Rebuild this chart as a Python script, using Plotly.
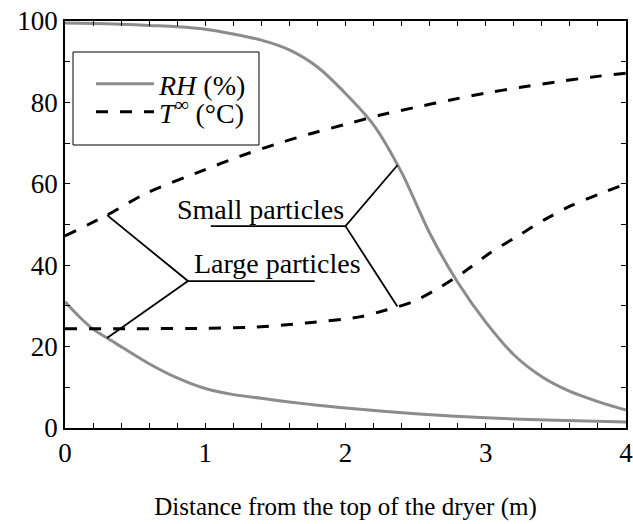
import numpy as np
import plotly.graph_objects as go

# ---- data ----
x_rh_small = [0, 0.2, 0.4, 0.6, 0.8, 1.0, 1.2, 1.4, 1.6, 1.8, 2.0, 2.2, 2.4, 2.6, 2.8, 3.0, 3.2, 3.4, 3.6, 3.8, 4.0]
rh_small = [99.5, 99.4, 99.2, 98.9, 98.6, 98.0, 96.8, 95.3, 92.9, 88.7, 82.2, 74.5, 62.8, 47.9, 35.8, 26.0, 18.0, 12.6, 9.0, 6.5, 4.4]

x_rh_large = [0, 0.1, 0.2, 0.3, 0.4, 0.6, 0.8, 1.0, 1.2, 1.4, 1.6, 1.8, 2.0, 2.5, 3.0, 3.5, 4.0]
rh_large = [31.0, 27.4, 24.3, 22.1, 20.0, 15.8, 12.3, 9.7, 8.2, 7.3, 6.4, 5.6, 4.9, 3.5, 2.5, 1.9, 1.5]

x_t_small = [0, 0.3, 0.58, 1.0, 1.25, 1.5, 1.75, 2.0, 2.25, 2.5, 2.75, 3.0, 3.25, 3.5, 3.75, 4.0]
t_small = [47.2, 52.3, 57.7, 63.5, 66.8, 69.7, 72.3, 74.6, 76.9, 78.8, 80.6, 82.3, 83.7, 85.0, 86.2, 87.2]

x_t_large = [0, 0.5, 1.0, 1.35, 1.72, 2.1, 2.29, 2.48, 2.67, 2.84, 3.03, 3.22, 3.42, 3.62, 3.82, 4.0]
t_large = [24.4, 24.4, 24.5, 24.8, 25.8, 27.3, 29.0, 31.0, 34.5, 38.2, 43.0, 47.0, 51.2, 54.8, 57.6, 60.0]

x_ticks = [0, 1, 2, 3, 4]
y_ticks = [0, 20, 40, 60, 80, 100]

x_title = "Distance from the top of the dryer (m)"
legend_rh = "<i>RH</i> (%)"
legend_t = "<i>T</i><sup>∞</sup> (°C)"
label_small = "Small particles"
label_large = "Large particles"

# leader-line geometry (label anchor points and target x on the curves)
small_branch = (2.0, 49.6)
small_underline_start = 1.04
small_target_x = 2.37
large_branch = (0.877, 36.1)
large_underline_end = 1.78
large_target_x = 0.30

FONT = "Liberation Serif, Times New Roman, serif"
GREY = "#8c8c8c"
DASH = "12px,12px"
SMOOTH = 0.8

fig = go.Figure()
fig.add_trace(go.Scatter(x=x_rh_small, y=rh_small, mode="lines",
                         line=dict(color=GREY, width=3, shape="spline", smoothing=SMOOTH),
                         name=legend_rh, legend="legend"))
fig.add_trace(go.Scatter(x=x_rh_large, y=rh_large, mode="lines",
                         line=dict(color=GREY, width=3, shape="spline", smoothing=SMOOTH),
                         showlegend=False))
fig.add_trace(go.Scatter(x=x_t_small, y=t_small, mode="lines",
                         line=dict(color="black", width=3, dash=DASH, shape="spline", smoothing=SMOOTH),
                         name=legend_t, legend="legend2"))
fig.add_trace(go.Scatter(x=x_t_large, y=t_large, mode="lines",
                         line=dict(color="black", width=3, dash=DASH, shape="spline", smoothing=SMOOTH),
                         showlegend=False))

# leader lines: endpoints found on the curves by interpolation
s_up = (small_target_x, float(np.interp(small_target_x, x_rh_small, rh_small)))
s_dn = (small_target_x, float(np.interp(small_target_x, x_t_large, t_large)))
l_up = (large_target_x, float(np.interp(large_target_x, x_t_small, t_small)))
l_dn = (large_target_x, float(np.interp(large_target_x, x_rh_large, rh_large)))

lead_small_x = [small_underline_start, small_branch[0], s_up[0], None, small_branch[0], s_dn[0]]
lead_small_y = [small_branch[1], small_branch[1], s_up[1], None, small_branch[1], s_dn[1]]
lead_large_x = [large_underline_end, large_branch[0], l_up[0], None, large_branch[0], l_dn[0]]
lead_large_y = [large_branch[1], large_branch[1], l_up[1], None, large_branch[1], l_dn[1]]
for lx, ly in [(lead_small_x, lead_small_y), (lead_large_x, lead_large_y)]:
    fig.add_trace(go.Scatter(x=lx, y=ly, mode="lines", line=dict(color="black", width=1.8),
                             showlegend=False, hoverinfo="skip"))

fig.add_annotation(x=1.394, y=53.8, text=label_small, showarrow=False, xanchor="center", yanchor="middle",
                   font=dict(family=FONT, size=28, color="black"))
fig.add_annotation(x=1.515, y=40.3, text=label_large, showarrow=False, xanchor="center", yanchor="middle",
                   font=dict(family=FONT, size=28, color="black"))

# legend frame
fig.add_shape(type="rect", xref="paper", yref="paper", x0=0.0143, x1=0.3458, y0=0.6953, y1=0.9238,
              line=dict(color="black", width=1), fillcolor="rgba(0,0,0,0)", layer="above")

axis_common = dict(showline=True, linecolor="black", linewidth=1.5, mirror="allticks",
                   ticks="inside", ticklen=5, tickwidth=1, tickcolor="black",
                   showgrid=False, zeroline=False, automargin=False, ticklabeloverflow="allow",
                   tickfont=dict(family=FONT, size=27, color="black"))

fig.update_xaxes(range=[0, 4], tickvals=x_ticks, ticktext=[str(v) for v in x_ticks],
                 minor=dict(ticks="inside", dtick=0.2, tick0=0, ticklen=5, tickcolor="black", showgrid=False),
                 title=dict(text=x_title, font=dict(family=FONT, size=25, color="black"), standoff=30),
                 **axis_common)
fig.update_yaxes(range=[0, 100], tickvals=y_ticks, ticktext=[str(v) for v in y_ticks],
                 minor=dict(ticks="inside", dtick=10, tick0=0, ticklen=5, tickcolor="black", showgrid=False),
                 **axis_common)

legend_style = dict(xanchor="left", yanchor="top", borderwidth=0, bgcolor="rgba(0,0,0,0)",
                    font=dict(family=FONT, size=28, color="black"), itemwidth=58)

fig.update_layout(
    width=633, height=524,
    margin=dict(l=65, r=7, t=21, b=96),
    paper_bgcolor="white", plot_bgcolor="white",
    font=dict(family=FONT, size=27, color="black"),
    showlegend=True,
    legend=dict(x=0.0463, y=0.9066, **legend_style),
    legend2=dict(x=0.0463, y=0.838, **legend_style),
)

fig.write_html("out.html", config={"displayModeBar": False},
               post_script="document.body.style.margin='0px';document.body.style.overflow='hidden';")
